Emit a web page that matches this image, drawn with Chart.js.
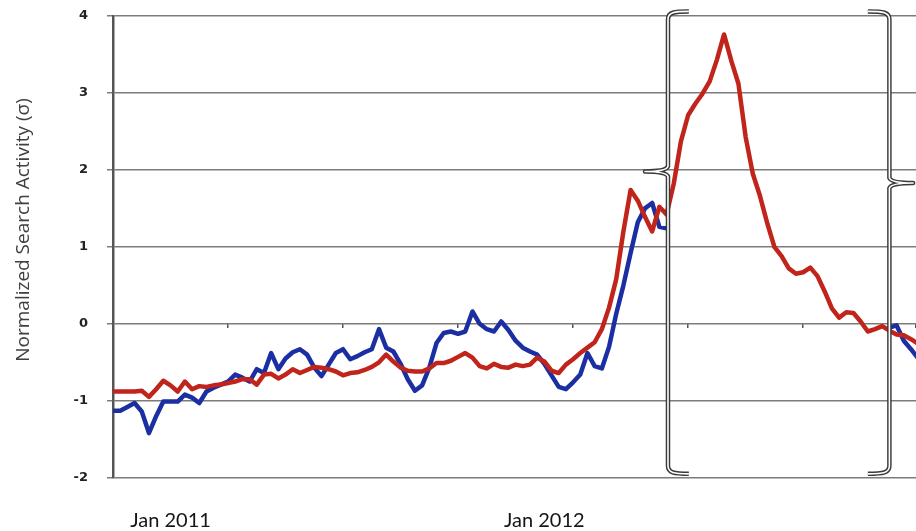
<!DOCTYPE html>
<html>
<head>
<meta charset="utf-8">
<script src="https://cdn.jsdelivr.net/npm/chart.js@4.4.1/dist/chart.umd.min.js"></script>
<style>
  html, body { margin: 0; padding: 0; background: #fff; overflow: hidden; }
  #wrap { position: relative; width: 916px; height: 531px; }
</style>
</head>
<body>
<div id="wrap"><canvas id="searchChart"></canvas></div>
<script>
// weekly normalized search activity, week 0 = early Nov 2010
const redSeries = [
  -0.88, -0.88, -0.88, -0.88, -0.87, -0.95, -0.85, -0.74, -0.80, -0.88,
  -0.75, -0.85, -0.81, -0.82, -0.80, -0.79, -0.77, -0.75, -0.72, -0.72,
  -0.79, -0.66, -0.65, -0.71, -0.66, -0.59, -0.64, -0.60, -0.56, -0.57,
  -0.59, -0.62, -0.67, -0.64, -0.63, -0.60, -0.56, -0.50, -0.40, -0.49,
  -0.57, -0.61, -0.62, -0.62, -0.58, -0.51, -0.51, -0.48, -0.43, -0.38,
  -0.44, -0.55, -0.58, -0.52, -0.56, -0.57, -0.53, -0.55, -0.53, -0.44,
  -0.49, -0.61, -0.64, -0.53, -0.46, -0.38, -0.31, -0.24, -0.07, 0.21,
  0.58, 1.20, 1.74, 1.60, 1.39, 1.20, 1.52, 1.42, 1.82, 2.37,
  2.71, 2.86, 2.99, 3.15, 3.43, 3.76, 3.42, 3.12, 2.43, 1.95,
  1.66, 1.31, 1.00, 0.88, 0.72, 0.65, 0.67, 0.73, 0.62, 0.42,
  0.20, 0.08, 0.15, 0.14, 0.03, -0.10, -0.07, -0.03, -0.09, -0.14,
  -0.15, -0.20, -0.26
];

const blueSeries = [
  -1.13, -1.13, -1.08, -1.03, -1.14, -1.42, -1.20, -1.01, -1.01, -1.01,
  -0.92, -0.96, -1.03, -0.88, -0.83, -0.79, -0.75, -0.66, -0.70, -0.75,
  -0.59, -0.64, -0.38, -0.59, -0.45, -0.37, -0.33, -0.40, -0.57, -0.68,
  -0.53, -0.38, -0.33, -0.46, -0.42, -0.37, -0.33, -0.07, -0.31, -0.36,
  -0.52, -0.72, -0.87, -0.80, -0.57, -0.25, -0.12, -0.10, -0.13, -0.10,
  0.16, 0.00, -0.07, -0.10, 0.03, -0.08, -0.22, -0.31, -0.36, -0.40,
  -0.52, -0.67, -0.82, -0.85, -0.76, -0.66, -0.38, -0.55, -0.58, -0.30,
  0.13, 0.50, 0.92, 1.32, 1.50, 1.57, 1.26, 1.24, null, null,
  null, null, null, null, null, null, null, null, null, null,
  null, null, null, null, null, null, null, null, null, null,
  null, null, null, null, null, null, null, null, -0.05, -0.02,
  -0.22, -0.33, -0.45
];

const weeks = redSeries.map((_, i) => i);

// date labels under the axis and the week they sit on
const dateTickWeeks = [8, 60];
const dateTickLabels = ["Jan 2011", "Jan 2012"];

const yTitle = "Normalized Search Activity (\u03c3)";

// two braces marking the spike window
const braces = [
  { x: 77.2, top: 4.06, bottom: -1.95, hook: 80.1, tip: 74.0, tipY: 1.98 },
  { x: 108.0, top: 4.06, bottom: -1.95, hook: 105.0, tip: 111.3, tipY: 1.83 }
];

const X_MAX = 111.7;

const bracePlugin = {
  id: "braces",
  afterDatasetsDraw(chart) {
    const ctx = chart.ctx;
    const xs = chart.scales.x;
    const ys = chart.scales.y;
    braces.forEach((b) => {
      const xv = xs.getPixelForValue(b.x);
      const hx = xs.getPixelForValue(b.hook);
      const tx = xs.getPixelForValue(b.tip);
      const top = ys.getPixelForValue(b.top);
      const bot = ys.getPixelForValue(b.bottom);
      const mid = ys.getPixelForValue(b.tipY);
      const d = Math.sign(hx - xv);
      ctx.save();
      ctx.beginPath();
      ctx.moveTo(hx, top);
      ctx.bezierCurveTo(xv + d * 6, top, xv, top + 1, xv, top + 8);
      ctx.lineTo(xv, mid - 5);
      ctx.quadraticCurveTo(xv - d * 2, mid, tx, mid);
      ctx.quadraticCurveTo(xv - d * 2, mid, xv, mid + 5);
      ctx.lineTo(xv, bot - 8);
      ctx.bezierCurveTo(xv, bot - 1, xv + d * 6, bot, hx, bot);
      ctx.lineJoin = "round";
      ctx.strokeStyle = "#3a3a3a";
      ctx.lineWidth = 4.5;
      ctx.stroke();
      ctx.strokeStyle = "#ffffff";
      ctx.lineWidth = 1.6;
      ctx.stroke();
      ctx.restore();
    });
  }
};

const yTitlePlugin = {
  id: "yTitle",
  afterDraw(chart) {
    const ctx = chart.ctx;
    ctx.save();
    ctx.translate(24, 230);
    ctx.rotate(-Math.PI / 2);
    ctx.font = "19px 'Open Sans'";
    ctx.fillStyle = "#404040";
    ctx.textAlign = "center";
    ctx.textBaseline = "middle";
    ctx.fillText(yTitle, 0, 0);
    ctx.restore();
  }
};

new Chart(document.getElementById("searchChart"), {
  type: "line",
  data: {
    labels: weeks,
    datasets: [
      {
        label: "Red",
        data: redSeries,
        borderColor: "#c1241a",
        borderWidth: 4.5,
        pointRadius: 0,
        tension: 0,
        borderJoinStyle: "round",
        borderCapStyle: "round"
      },
      {
        label: "Blue",
        data: blueSeries,
        borderColor: "#1b2fa3",
        borderWidth: 4.5,
        pointRadius: 0,
        tension: 0,
        spanGaps: false,
        borderJoinStyle: "round",
        borderCapStyle: "round"
      }
    ]
  },
  options: {
    responsive: true,
    maintainAspectRatio: false,
    animation: false,
    layout: { padding: { top: 16, right: 0, left: 0, bottom: 0 } },
    plugins: {
      legend: { display: false },
      tooltip: { enabled: false }
    },
    scales: {
      x: {
        type: "linear",
        position: { y: 0 },
        min: 0,
        max: X_MAX,
        // zero-line axis: tick marks only, takes no layout room
        afterFit: (scale) => {
          scale.height = 0;
        },
        ticks: { display: false, stepSize: 16 },
        grid: {
          drawOnChartArea: false,
          drawTicks: true,
          tickLength: 4,
          color: "#555",
          lineWidth: 1.5
        },
        border: { display: false }
      },
      xLab: {
        type: "linear",
        position: "bottom",
        min: 0,
        max: X_MAX,
        afterBuildTicks: (scale) => {
          scale.ticks = dateTickWeeks.map((w) => ({ value: w }));
        },
        afterFit: (scale) => {
          scale.height = 53.3;
        },
        ticks: {
          autoSkip: false,
          maxRotation: 0,
          padding: 31,
          color: "#151515",
          font: { family: "Lato", size: 20 },
          callback: (v) => dateTickLabels[dateTickWeeks.indexOf(v)]
        },
        grid: { display: false, drawTicks: false },
        border: { display: false }
      },
      y: {
        min: -2,
        max: 4,
        // fixed axis width; the label padding should not push the plot down
        afterFit: (scale) => {
          scale.width = 113;
          scale.paddingTop = 0;
        },
        ticks: {
          stepSize: 1,
          padding: 19,
          color: "#222",
          font: { family: "DejaVu Sans", weight: "bold", size: 13 }
        },
        grid: {
          color: "#7c7c7c",
          lineWidth: 1.5,
          tickLength: 6
        },
        border: { color: "#555", width: 2.5 }
      }
    }
  },
  plugins: [bracePlugin, yTitlePlugin]
});
</script>
</body>
</html>
